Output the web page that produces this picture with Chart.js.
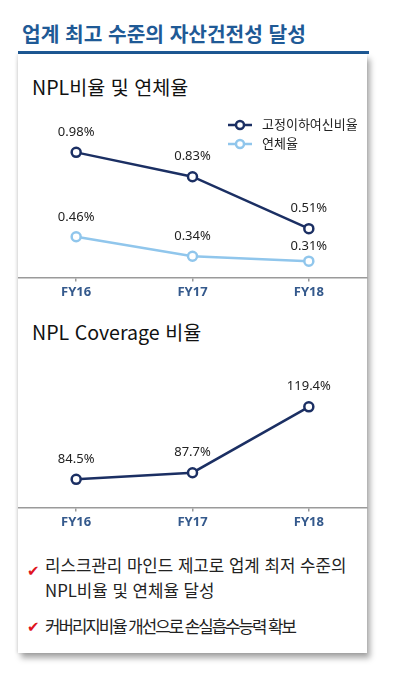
<!DOCTYPE html>
<html lang="ko">
<head>
<meta charset="utf-8">
<script src="https://cdn.jsdelivr.net/npm/chart.js@4.4.1/dist/chart.umd.min.js"></script>
<style>
  html,body{margin:0;padding:0;background:#fff;}
  body{width:394px;height:676px;position:relative;overflow:hidden;font-family:"Noto Sans CJK KR","Noto Sans",sans-serif;}
  #title{position:absolute;left:22px;top:18px;font-size:20.3px;font-weight:700;color:#1f5a96;white-space:nowrap;}
  #rule{position:absolute;left:18px;top:51px;width:351px;height:3px;background:#1f5a96;}
  #card{position:absolute;left:18px;top:54px;width:349px;height:599px;background:#fff;box-shadow:3px 5px 6px rgba(0,0,0,0.35),-1px 0 3px rgba(0,0,0,0.12);}
  .sub{position:absolute;left:32px;font-size:19.6px;color:#111;white-space:nowrap;}
  #c1wrap{position:absolute;left:18px;top:100px;width:350px;height:205px;}
  #c2wrap{position:absolute;left:18px;top:350px;width:350px;height:185px;}
  .bul{position:absolute;left:45px;font-size:16.8px;color:#222;line-height:25px;white-space:nowrap;}
  .chk{position:absolute;left:27px;font-size:15px;color:#e0141e;font-family:"DejaVu Sans",sans-serif;}
</style>
</head>
<body>
<div id="title">업계 최고 수준의 자산건전성 달성</div>
<div id="rule"></div>
<div id="card"></div>
<div class="sub" style="top:72px;">NPL비율 및 연체율</div>
<div class="sub" style="top:317px;">NPL Coverage 비율</div>
<div id="c1wrap"><canvas id="c1"></canvas></div>
<div id="c2wrap"><canvas id="c2"></canvas></div>
<div class="chk" style="top:562px;">✔</div>
<div class="bul" style="top:553px;">리스크관리 마인드 제고로 업계 최저 수준의<br>NPL비율 및 연체율 달성</div>
<div class="chk" style="top:618px;">✔</div>
<div class="bul" style="top:614px;letter-spacing:-2px;">커버리지비율 개선으로 손실흡수능력 확보</div>

<script>
// ---- data ----
const categories = ["FY16", "FY17", "FY18"];
const nplRatio = [0.98, 0.83, 0.51];          // 고정이하여신비율 (%)
const delinquencyRatio = [0.46, 0.34, 0.31];  // 연체율 (%)
const coverageRatio = [84.5, 87.7, 119.4];    // NPL Coverage 비율 (%)
const seriesNames = ["고정이하여신비율", "연체율"];

const DARK = "#1b2f63";
const LIGHT = "#90c6ec";
const FONT = '"Noto Sans", "Noto Sans CJK KR", sans-serif';

// data labels plugin: draws formatted values above each point using library positions
const valueLabels = {
  id: "valueLabels",
  afterDatasetsDraw(chart, args, opts) {
    const ctx = chart.ctx;
    ctx.save();
    ctx.font = "13px " + FONT;
    ctx.fillStyle = "#222";
    ctx.textAlign = "center";
    ctx.textBaseline = "middle";
    chart.data.datasets.forEach((ds, di) => {
      const meta = chart.getDatasetMeta(di);
      meta.data.forEach((pt, i) => {
        const off = opts.offset(di, i);
        ctx.fillText(opts.format(ds.data[i]), pt.x, pt.y - off);
      });
    });
    ctx.restore();
  }
};

// legend plugin: line + hollow circle marker, then series name
const lineLegend = {
  id: "lineLegend",
  afterDraw(chart, args, opts) {
    if (!opts.show) return;
    const ctx = chart.ctx;
    const ca = chart.chartArea;
    ctx.save();
    chart.data.datasets.forEach((ds, di) => {
      const y = ca.top + opts.top + di * opts.rowGap;
      const x0 = ca.right - opts.fromRight;
      ctx.strokeStyle = ds.borderColor;
      ctx.lineWidth = 2.5;
      ctx.beginPath();
      ctx.moveTo(x0, y);
      ctx.lineTo(x0 + 24, y);
      ctx.stroke();
      ctx.beginPath();
      ctx.arc(x0 + 12, y, 4, 0, Math.PI * 2);
      ctx.fillStyle = "#fff";
      ctx.fill();
      ctx.stroke();
      ctx.fillStyle = "#222";
      ctx.font = "13px " + FONT;
      ctx.textAlign = "left";
      ctx.textBaseline = "middle";
      ctx.fillText(ds.label, x0 + 34, y);
    });
    ctx.restore();
  }
};

function xScale() {
  return {
    offset: true,
    grid: {
      display: true,
      offset: false,
      drawOnChartArea: false,
      drawTicks: true,
      tickLength: 4,
      color: "#9a9a9a",
      lineWidth: 1.5
    },
    border: { display: true, color: "#9a9a9a", width: 1.5 },
    ticks: {
      color: "#34598c",
      font: { family: FONT, size: 13, weight: "bold" },
      padding: 3
    }
  };
}

function pointDs(label, data, color) {
  return {
    label: label,
    data: data,
    borderColor: color,
    backgroundColor: "#fff",
    borderWidth: 2.5,
    pointRadius: 4.5,
    pointHoverRadius: 4.5,
    pointBorderWidth: 2.5,
    pointBackgroundColor: "#fff",
    pointBorderColor: color,
    tension: 0,
    clip: false
  };
}

new Chart(document.getElementById("c1"), {
  type: "line",
  data: {
    labels: categories,
    datasets: [
      pointDs(seriesNames[0], nplRatio, DARK),
      pointDs(seriesNames[1], delinquencyRatio, LIGHT)
    ]
  },
  options: {
    responsive: true,
    maintainAspectRatio: false,
    animation: false,
    events: [],
    layout: { autoPadding: false, padding: { top: 15, left: 0, right: 1, bottom: 2 } },
    scales: {
      x: xScale(),
      y: { display: false, min: 0.21, max: 1.21 }
    },
    plugins: {
      legend: { display: false },
      tooltip: { enabled: false },
      valueLabels: {
        format: v => v.toFixed(2) + "%",
        offset: (di, i) => (di === 1 && i === 2) ? 15 : 20
      },
      lineLegend: { show: true, top: 10, rowGap: 19, fromRight: 139 }
    }
  },
  plugins: [valueLabels, lineLegend]
});

new Chart(document.getElementById("c2"), {
  type: "line",
  data: {
    labels: categories,
    datasets: [ pointDs("NPL Coverage 비율", coverageRatio, DARK) ]
  },
  options: {
    responsive: true,
    maintainAspectRatio: false,
    animation: false,
    events: [],
    layout: { autoPadding: false, padding: { top: 14, left: 0, right: 1, bottom: 2 } },
    scales: {
      x: xScale(),
      y: { display: false, min: 71, max: 140 }
    },
    plugins: {
      legend: { display: false },
      tooltip: { enabled: false },
      valueLabels: {
        format: v => v.toFixed(1) + "%",
        offset: () => 20.5
      },
      lineLegend: { show: false }
    }
  },
  plugins: [valueLabels, lineLegend]
});
</script>
</body>
</html>
